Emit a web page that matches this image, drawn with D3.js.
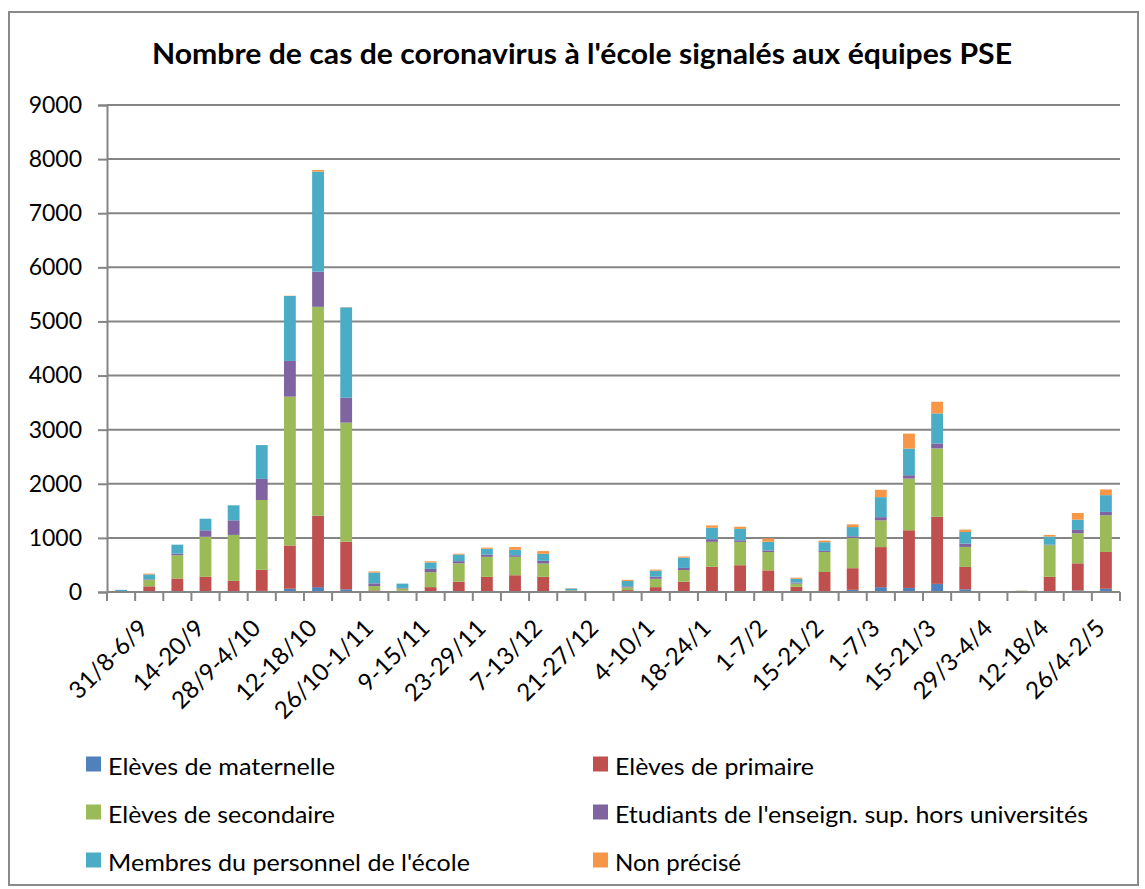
<!DOCTYPE html>
<html><head><meta charset="utf-8">
<script src="https://cdn.jsdelivr.net/npm/d3@7"></script>
<style>body{margin:0;background:#fff}svg{display:block}text{font-family:Lato,"Open Sans",sans-serif;fill:#000}</style>
</head><body><svg id="c" width="1145" height="889"></svg>
<script>
const title = "Nombre de cas de coronavirus à l'école signalés aux équipes PSE";
const weeks = ["31/8-6/9","7-13/9","14-20/9","21-27/9","28/9-4/10","5-11/10","12-18/10","19-25/10","26/10-1/11","2-8/11","9-15/11","16-22/11","23-29/11","30/11-6/12","7-13/12","14-20/12","21-27/12","28/12-3/1","4-10/1","11-17/1","18-24/1","25-31/1","1-7/2","8-14/2","15-21/2","22-28/2","1-7/3","8-14/3","15-21/3","22-28/3","29/3-4/4","5-11/4","12-18/4","19-25/4","26/4-2/5","3-9/5"];
const seriesNames = ["Elèves de maternelle","Elèves de primaire","Elèves de secondaire","Etudiants de l'enseign. sup. hors universités","Membres du personnel de l'école","Non précisé"];
const seriesColors = ["#4F81BD","#C0504D","#9BBB59","#8064A2","#4BACC6","#F79646"];
const maternelle = [0,5,5,5,5,20,60,90,50,10,10,10,10,10,10,10,0,0,5,5,10,15,15,10,10,10,40,90,75,150,50,0,0,10,30,60];
const primaire   = [5,100,245,275,200,390,800,1320,880,20,15,80,180,270,300,270,15,0,30,85,180,450,480,390,85,360,400,740,1066,1240,413,5,20,270,500,680];
const secondaire = [10,120,430,740,850,1290,2750,3860,2200,80,40,277,340,370,340,246,15,0,50,154,215,462,431,339,60,370,560,493,955,1264,370,5,5,585,555,678];
const etudiants  = [0,10,30,120,270,390,660,650,460,50,10,60,40,40,30,50,5,0,20,40,40,50,30,30,20,20,30,60,62,92,62,0,0,10,62,62];
const personnel  = [25,90,165,215,277,625,1200,1850,1670,200,80,120,123,110,100,130,30,0,100,110,190,210,210,160,70,160,170,370,493,555,215,5,0,150,190,310];
const nonPrecise = [0,15,0,0,0,0,5,30,5,20,0,20,15,20,50,50,5,0,20,20,20,43,40,60,20,30,50,135,277,215,43,0,0,30,123,105];
const yTicks = [0,1000,2000,3000,4000,5000,6000,7000,8000,9000];

const seriesValues = [maternelle,primaire,secondaire,etudiants,personnel,nonPrecise];
const rows = weeks.map((w,i)=>{const r={week:w};seriesNames.forEach((s,k)=>r[s]=seriesValues[k][i]);return r;});
const stack = d3.stack().keys(seriesNames)(rows);

const svg = d3.select("#c");
svg.append("rect").attr("x",9).attr("y",12).attr("width",1129).attr("height",873)
  .attr("fill","#fff").attr("stroke","#8a8a8a").attr("stroke-width",2);

const x = d3.scaleBand().domain(weeks).range([107,1120]).paddingInner(0.58).paddingOuter(0.29);
const xb = d3.scaleBand().domain(weeks).range([107,1120]);
const y = d3.scaleLinear().domain([0,9000]).range([592,105]);

// gridlines
svg.append("g").selectAll("line").data(yTicks.filter(d=>d>0)).join("line")
  .attr("x1",107).attr("x2",1120).attr("y1",d=>y(d)).attr("y2",d=>y(d))
  .attr("stroke","#858585").attr("stroke-width",2);

// bars
svg.append("g").selectAll("g").data(stack).join("g").attr("fill",(d,i)=>seriesColors[i])
  .selectAll("rect").data(d=>d).join("rect")
  .attr("x",d=>x(d.data.week)).attr("width",x.bandwidth())
  .attr("y",d=>y(d[1])).attr("height",d=>Math.max(0,y(d[0])-y(d[1])));

// y axis
const ya = svg.append("g").attr("transform","translate(107,0)")
  .call(d3.axisLeft(y).tickValues(yTicks).tickSize(9).tickPadding(16).tickFormat(d3.format("d")));
ya.select(".domain").attr("stroke","#858585").attr("stroke-width",2);
ya.selectAll(".tick line").attr("stroke","#858585").attr("stroke-width",2);
ya.selectAll("text").style("font-family","Lato, sans-serif").style("font-size","23px").attr("fill","#000");

// x axis
const xa = svg.append("g").attr("transform","translate(0,592)");
xa.append("line").attr("x1",107).attr("x2",1120).attr("stroke","#858585").attr("stroke-width",2);
xa.selectAll("line.t").data(weeks.concat(["_end"])).join("line").attr("class","t")
  .attr("x1",(d,i)=>107+i*xb.step()).attr("x2",(d,i)=>107+i*xb.step())
  .attr("y1",0).attr("y2",9).attr("stroke","#858585").attr("stroke-width",2);
xa.selectAll("text").data(weeks.filter((d,i)=>i%2===0)).join("text")
  .attr("transform",d=>`translate(${xb(d)+xb.bandwidth()/2+15},24) rotate(-45)`)
  .attr("text-anchor","end").attr("dominant-baseline","hanging")
  .style("font-size","24px").text(d=>d);

// title
svg.append("text").attr("x",582).attr("y",64).attr("text-anchor","middle")
  .style("font-size","28px").style("font-weight","bold")
  .attr("textLength",860).attr("lengthAdjust","spacingAndGlyphs").text(title);

// legend
const legPos = [[86,764],[593,764],[86,812],[593,812],[86,860],[593,860]];
const legW = [227,199,227,473,362,126];
const lg = svg.append("g").selectAll("g").data(seriesNames).join("g")
  .attr("transform",(d,i)=>`translate(${legPos[i][0]},${legPos[i][1]})`);
lg.append("rect").attr("x",0).attr("y",-7.5).attr("width",15).attr("height",15).attr("fill",(d,i)=>seriesColors[i]);
lg.append("text").attr("x",22).attr("y",1).attr("dominant-baseline","central")
  .style("font-size","24px").attr("textLength",(d,i)=>legW[i]).attr("lengthAdjust","spacingAndGlyphs").text(d=>d);
</script></body></html>
